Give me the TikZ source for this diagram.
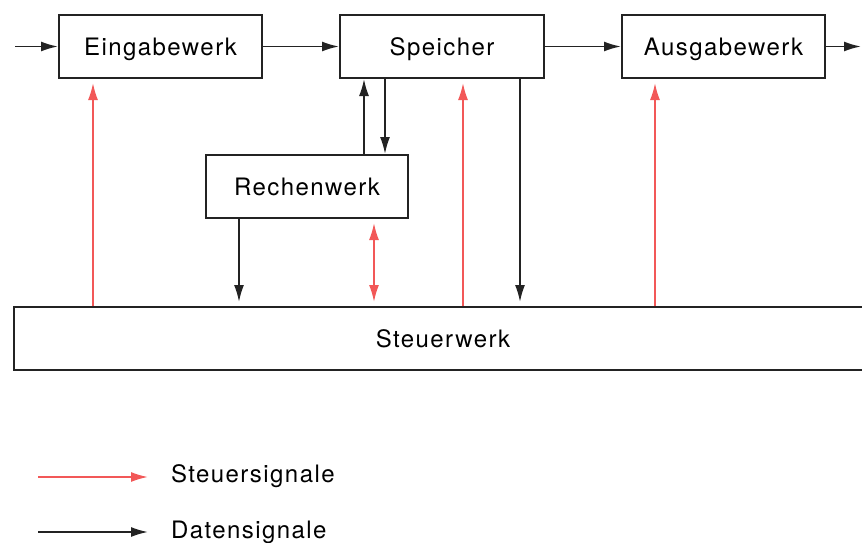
\documentclass[tikz,border=0pt]{standalone}
\usepackage{fontspec}
\setmainfont{TeX Gyre Heros}[LetterSpace=6]
\usetikzlibrary{arrows.meta}
\definecolor{sigrot}{RGB}{242,88,88}
\definecolor{rahmen}{RGB}{35,35,35}

\begin{document}
\begin{tikzpicture}[x=1pt, y=-1pt,
    every node/.style={draw=rahmen, line width=2pt, minimum height=63pt, inner sep=0pt, text height=17.3pt, text depth=0pt, font=\fontsize{24}{28}\selectfont},
    legtext/.style={draw=none, minimum height=0pt, anchor=west},
    daten/.style={-{Latex[length=17pt,width=10pt]}, line width=1.8pt, draw=rahmen},
    steuer/.style={-{Latex[length=17pt,width=10pt]}, line width=1.8pt, draw=sigrot}]
          \useasboundingbox (0,0) rectangle (862,543);

          % Bloecke
          \node[minimum width=203pt] (ein) at (160.5,46.5) {Eingabewerk};
          \node[minimum width=204pt] (sp) at (442,46.5) {Speicher};
          \node[minimum width=203pt] (aus) at (723.5,46.5) {Ausgabewerk};
          \node[minimum width=202pt] (re) at (307,186.5) {Rechenwerk};
          \node[minimum width=858pt] (st) at (443,338.5) {Steuerwerk};

          % Hilfspunkte
          \coordinate (in) at (15,46.5);
          \coordinate (out) at (861,46.5);
          \coordinate (x1) at (93,0);
          \coordinate (x2) at (239,0);
          \coordinate (x3) at (364,0);
          \coordinate (x4) at (374,0);
          \coordinate (x5) at (385,0);
          \coordinate (x6) at (463,0);
          \coordinate (x7) at (520,0);
          \coordinate (x8) at (655,0);

          % Datensignale
          \draw[daten] (in) -- (ein.west);
          \draw[daten] (ein) -- (sp);
          \draw[daten] (sp) -- (aus);
          \draw[daten] (aus.east) -- (out);
          \draw[daten] (re.north -| x3) -- (sp.south -| x3);
          \draw[daten] (sp.south -| x5) -- (re.north -| x5);
          \draw[daten, shorten >=4pt] (re.south -| x2) -- (st.north -| x2);
          \draw[daten, shorten >=4pt] (sp.south -| x7) -- (st.north -| x7);

          % Steuersignale
          \draw[steuer, shorten >=4pt] (st.north -| x1) -- (ein.south -| x1);
          \draw[steuer, shorten >=4pt] (st.north -| x6) -- (sp.south -| x6);
          \draw[steuer, shorten >=4pt] (st.north -| x8) -- (aus.south -| x8);
          \draw[steuer, {Latex[length=17pt,width=10pt]}-{Latex[length=17pt,width=10pt]}, shorten <=4pt, shorten >=4pt] (re.south -| x4) -- (st.north -| x4);

          % Legende
          \coordinate (l1a) at (38,477);
          \coordinate (l1b) at (148,477);
          \coordinate (l2a) at (38,532);
          \coordinate (l2b) at (148,532);
          \draw[steuer] (l1a) -- (l1b);
          \draw[daten] (l2a) -- (l2b);
          \node[legtext] (ls) at (170,474) {Steuersignale};
          \node[legtext] (ld) at (170,530) {Datensignale};
        \end{tikzpicture}
\end{document}
